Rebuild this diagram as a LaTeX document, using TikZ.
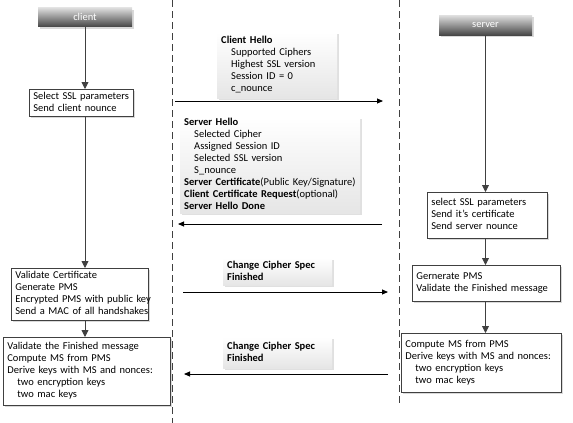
\documentclass[tikz,border=0pt]{standalone}
\usepackage{fontspec}
\setmainfont{Carlito}
\usetikzlibrary{arrows.meta,shadows}

\newcommand{\boxlines}[1]{\begin{tabular}{@{}l@{}}#1\end{tabular}}

\tikzset{
    headbox/.style={top color=black!12, bottom color=black!72, text=white,
                    minimum width=94pt, minimum height=19pt, inner sep=0pt,
                    drop shadow={shadow xshift=2pt, shadow yshift=-2pt, fill=black!15, opacity=1}},
    procbox/.style={draw=black!75, line width=0.8pt, fill=white, align=left,
                    anchor=north west, inner xsep=4pt, inner ysep=0pt,
                    drop shadow={shadow xshift=2pt, shadow yshift=-2pt, fill=black!15, opacity=1}},
    msgbox/.style={top color=white, bottom color=black!10, align=left,
                   anchor=north west, inner xsep=4pt, inner ysep=0pt,
                   drop shadow={shadow xshift=2pt, shadow yshift=-2pt, fill=black!12, opacity=1}},
    flow/.style={draw=black!75, line width=0.9pt, -{Triangle[length=7pt, width=7pt]}},
    msg/.style={line width=0.9pt, -{Triangle[length=6pt, width=5pt]}},
    lifeline/.style={draw=black!75, line width=0.9pt, dash pattern=on 7pt off 4pt}
}

\begin{document}
\begin{tikzpicture}[x=1pt, y=-1pt, font=\fontsize{10.5pt}{12pt}\selectfont]
    \useasboundingbox (0, 0) rectangle (573, 423);

    % lifelines
    \draw[lifeline] (172, 0) -- (172, 423);
    \draw[lifeline] (399, 0) -- (399, 405);

    % client side
    \node[headbox] (client) at (85, 17) {client};
    \node[procbox, text width=96pt, minimum height=27pt] (c1) at (29, 89)
        {\boxlines{Select SSL parameters\\Send client nounce}};
    \node[procbox, text width=129pt, minimum height=52pt] (c2) at (11, 268)
        {\boxlines{Validate Certificate\\Generate PMS\\Encrypted PMS with public key\\Send a MAC of all handshakes}};
    \node[procbox, text width=159pt, minimum height=68pt] (c3) at (3, 337)
        {\boxlines{Validate the Finished message\\Compute MS from PMS\\Derive keys with MS and nonces:\\
         \hspace*{10pt}two encryption keys\\\hspace*{10pt}two mac keys}};

    \draw[flow] (client) -- (client |- c1.north);
    \draw[flow] (client |- c1.south) -- (client |- c2.north);
    \draw[flow] (client |- c2.south) -- (client |- c3.north);

    % server side
    \node[headbox, minimum width=93pt, minimum height=20pt] (server) at (485.5, 25) {server};
    \node[procbox, text width=112pt, minimum height=46pt] (s1) at (427, 192)
        {\boxlines{select SSL parameters\\Send it’s certificate\\Send server nounce}};
    \node[procbox, text width=140pt, minimum height=36pt] (s2) at (412, 265)
        {\boxlines{Gernerate PMS\\Validate the Finished message}};
    \node[procbox, text width=152pt, minimum height=59pt] (s3) at (401, 333)
        {\boxlines{Compute MS from PMS\\Derive keys with MS and nonces:\\
         \hspace*{10pt}two encryption keys\\\hspace*{10pt}two mac keys}};

    \draw[flow] (server) -- (server |- s1.north);
    \draw[flow] (server |- s1.south) -- (server |- s2.north);
    \draw[flow] (server |- s2.south) -- (server |- s3.north);

    % messages
    \node[msgbox, text width=112pt, minimum height=66pt] (hello) at (217, 32)
        {\boxlines{\textbf{Client Hello}\\\hspace*{10pt}Supported Ciphers\\\hspace*{10pt}Highest SSL version\\
         \hspace*{10pt}Session ID = 0\\\hspace*{10pt}c\_nounce}};
    \node[msgbox, text width=172pt, minimum height=95pt] (shello) at (180, 117)
        {\boxlines{\textbf{Server Hello}\\\hspace*{10pt}Selected Cipher\\\hspace*{10pt}Assigned Session ID\\
         \hspace*{10pt}Selected SSL version\\\hspace*{10pt}S\_nounce\\
         \textbf{Server Certificate}(Public Key/Signature)\\
         \textbf{Client Certificate Request}(optional)\\
         \textbf{Server Hello Done}}};
    \node[msgbox, text width=101pt, minimum height=27pt] (ccs1) at (223, 258)
        {\boxlines{\textbf{Change Cipher Spec}\\\textbf{Finished}}};
    \node[msgbox, text width=101pt, minimum height=31pt] (ccs2) at (223, 337)
        {\boxlines{\textbf{Change Cipher Spec}\\\textbf{Finished}}};

    \coordinate (m1a) at (175, 101);
    \coordinate (m1b) at (383, 101);
    \coordinate (m2a) at (382, 224);
    \coordinate (m2b) at (178, 224);
    \coordinate (m3a) at (183, 292);
    \coordinate (m3b) at (388, 292);
    \coordinate (m4a) at (388, 374);
    \coordinate (m4b) at (184, 374);
    \draw[msg] (m1a) -- (m1b);
    \draw[msg] (m2a) -- (m2b);
    \draw[msg] (m3a) -- (m3b);
    \draw[msg] (m4a) -- (m4b);
\end{tikzpicture}
\end{document}
